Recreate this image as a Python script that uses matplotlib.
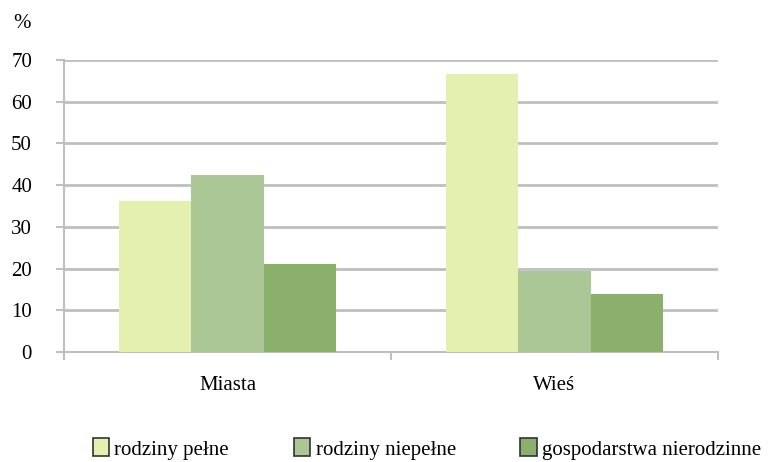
import numpy as np
import matplotlib.pyplot as plt

plt.rcParams['font.family'] = ['Liberation Serif', 'DejaVu Serif']

# data
categories = ["Miasta", "Wieś"]
series = ["rodziny pełne", "rodziny niepełne", "gospodarstwa nierodzinne"]
pelne = [36.2, 66.6]
niepelne = [42.4, 19.3]
nierodzinne = [21.2, 13.8]
colors = ["#E3F0AF", "#ABC795", "#8BB06B"]

fig = plt.figure(figsize=(7.78, 4.62), dpi=100)
ax = fig.add_axes([64/778, 1-352/462, 654/778, 292/462])

x = np.arange(len(categories))
w = 0.222
for i, (vals, name) in enumerate(zip([pelne, niepelne, nierodzinne], series)):
    ax.bar(x + (i - 1) * w, vals, width=w, color=colors[i], label=name, zorder=3)

ax.set_xlim(-0.5, 1.5)
ax.set_ylim(0, 70)
ax.set_yticks(range(0, 71, 10))
ax.set_xticks(x)
ax.set_xticklabels(categories)
ax.set_xticks([-0.5, 0.5, 1.5], minor=True)
ax.tick_params(axis='x', which='major', length=0, pad=17, labelsize=15)
ax.tick_params(axis='x', which='minor', length=6, width=1.5, color='#BFBFBF')
ax.tick_params(axis='y', length=6, width=1.5, color='#BFBFBF', labelsize=15, pad=17)
ax.yaxis.grid(True, color='#BFBFBF', linewidth=2, zorder=0)
for s in ['top', 'right']:
    ax.spines[s].set_visible(False)
for s in ['left', 'bottom']:
    ax.spines[s].set_color('#BFBFBF')
    ax.spines[s].set_linewidth(1.5)

fig.text(13/778, 1-23/462, "%", fontsize=15, va='center')

handles, labels = ax.get_legend_handles_labels()
leg = fig.legend(handles, labels, loc='center', bbox_to_anchor=(427/778, 1-449/462),
                 ncol=3, frameon=False, fontsize=15, handlelength=0.8, handleheight=0.95,
                 handletextpad=0.25, columnspacing=3.1)
for p in leg.get_patches():
    p.set_edgecolor('#333333')
    p.set_linewidth(1.2)

fig.savefig("out.png", dpi=100)
